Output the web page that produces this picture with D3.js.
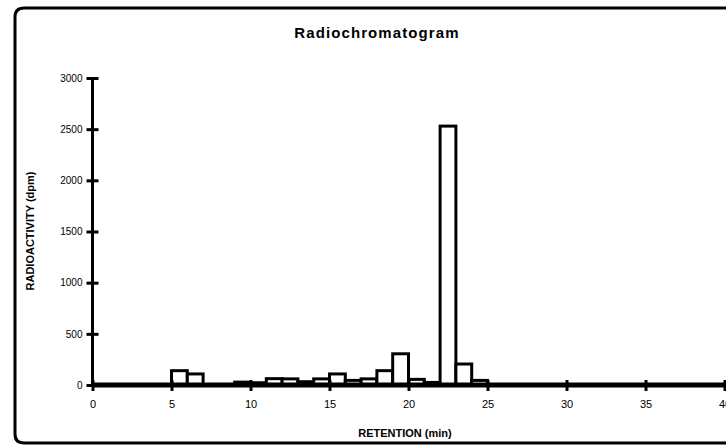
<!DOCTYPE html>
<html><head><meta charset="utf-8">
<script src="https://cdn.jsdelivr.net/npm/d3@7"></script>
<style>body{margin:0;background:#fff}svg{display:block}</style>
</head><body>
<script>
// Retention bins (start minute, 1-min wide) and radioactivity (dpm)
const binStarts = d3.range(0, 40);
const activity = [5,5,5,5,5,140,108,5,5,28,22,62,60,32,60,108,45,60,140,305,55,25,2530,205,45,3,3,3,3,3,3,3,3,3,3,3,3,3,3,3];
const xTicks = [0,5,10,15,20,25,30,35,40];
const yTicks = [0,500,1000,1500,2000,2500,3000];
const title = "Radiochromatogram";
const xTitle = "RETENTION (min)";
const yTitle = "RADIOACTIVITY (dpm)";

const W = 726, H = 447;
const svg = d3.select("body").append("svg").attr("width", W).attr("height", H);
const x = d3.scaleLinear().domain([0, 40]).range([92.5, 724.5]);
const y = d3.scaleLinear().domain([0, 3000]).range([385, 78]);

// outer frame
svg.append("path")
  .attr("d", "M760,8 L24,8 Q15,8 15,17 L15,434 Q15,443 24,443 L760,443")
  .attr("fill", "none").attr("stroke", "#000").attr("stroke-width", 3);

// title
svg.append("text").attr("x", 377).attr("y", 38).attr("text-anchor", "middle")
  .attr("font-family", "Liberation Sans, Arial, sans-serif").attr("font-weight", "bold")
  .attr("font-size", 15).attr("letter-spacing", 1.1).text(title);

// bars
svg.append("g").selectAll("rect").data(binStarts).join("rect")
  .attr("x", d => x(d)).attr("width", d => x(d + 1) - x(d))
  .attr("y", (d, i) => y(activity[i])).attr("height", (d, i) => y(0) - y(activity[i]))
  .attr("fill", "#fff").attr("stroke", "#000").attr("stroke-width", 3);

// axes
const font = "Liberation Sans, Arial, sans-serif";
const yAxis = svg.append("g").attr("transform", `translate(${x(0)},0)`)
  .call(d3.axisLeft(y).tickValues(yTicks).tickSize(6).tickPadding(4).tickFormat(d3.format("d")));
yAxis.select(".domain").attr("stroke-width", 3).attr("d", `M0,${y(3000)}V${y(0)}`);
yAxis.selectAll(".tick line").attr("x1", -6).attr("x2", 6).attr("stroke-width", 3);
yAxis.selectAll(".tick text").attr("font-family", font).attr("font-size", 10).attr("fill", "#000");

const xAxis = svg.append("g").attr("transform", `translate(0,${y(0)})`)
  .call(d3.axisBottom(x).tickValues(xTicks).tickSize(6).tickPadding(9));
xAxis.select(".domain").attr("stroke-width", 5).attr("d", `M${x(0)},0H${x(40)}`);
xAxis.selectAll(".tick line").attr("y1", -5).attr("y2", 6).attr("stroke-width", 3);
xAxis.selectAll(".tick text").attr("font-family", font).attr("font-size", 11).attr("fill", "#000");

// axis titles
svg.append("text").attr("x", 405).attr("y", 437).attr("text-anchor", "middle")
  .attr("font-family", font).attr("font-weight", "bold").attr("font-size", 11).text(xTitle);
svg.append("text").attr("transform", "translate(34,231) rotate(-90)").attr("text-anchor", "middle")
  .attr("font-family", font).attr("font-weight", "bold").attr("font-size", 11).text(yTitle);
</script>
</body></html>
